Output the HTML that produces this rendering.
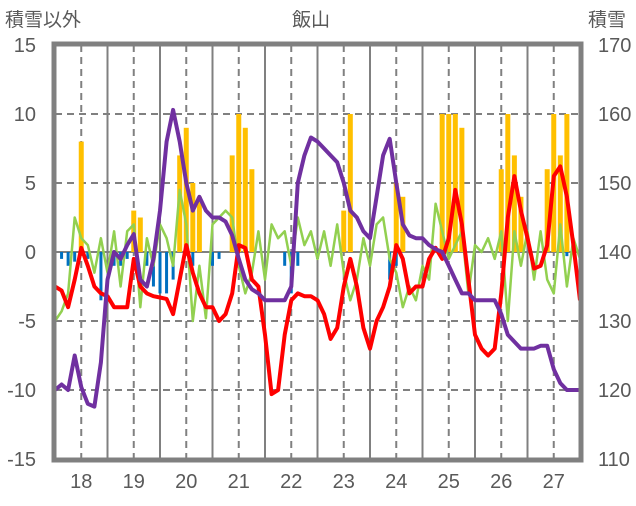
<!DOCTYPE html>
<html><head><meta charset="utf-8"><style>
body{margin:0;background:#fff}
svg text{font-family:"Liberation Sans","Noto Sans CJK JP",sans-serif;fill:#595959}
</style></head><body>
<svg id="c" width="636" height="501"></svg>
<script>
const xLabels=["18","19","20","21","22","23","24","25","26","27"];
const leftTicks=[15,10,5,0,-5,-10,-15];
const rightTicks=[170,160,150,140,130,120,110];
// 3-hourly samples from day 17.5 to 27.5
const snowDepth=[-10,-9.6,-10,-7.5,-9.8,-11,-11.2,-8,-2,0,-0.5,0.5,1.3,-2,-2.5,-0.5,3,8,10.3,8,5,3,4,3,2.5,2.5,2.2,1.2,-0.5,-2,-2.7,-3,-3.5,-3.5,-3.5,-3.5,-2.5,5,7,8.3,8,7.5,7,6.5,5,3,2.5,1.5,1,4,7,8.2,5,2,1.2,1,1,0.5,0.2,0,-1,-2,-3,-3,-3.5,-3.5,-3.5,-3.5,-4.5,-6,-6.5,-7,-7,-7,-6.8,-6.8,-8.5,-9.5,-10,-10,-10].map(v=>140+2*v);
const redSeries=[-2.5,-2.8,-4,-2,0.3,-1,-2.5,-3,-3.2,-4,-4,-4,-0.5,-2.5,-3,-3.2,-3.3,-3.4,-4.5,-2,0.5,-1.5,-3,-4,-4,-5,-4.5,-3,0.5,0.3,-2,-2.5,-6,-10.3,-10,-6,-3.5,-3,-3.2,-3.2,-3.5,-4.5,-6.3,-5.5,-2.5,-0.5,-2.5,-5.5,-7,-5,-4,-2.5,0.5,-0.5,-3,-2.5,-2.5,-0.5,0.3,-0.5,1,4.5,2,-2,-6,-7,-7.5,-7,-3,2.5,5.5,3,1,-1.2,-1,0.5,5.5,6.2,4,0.5,-3.5];
const greenSeries=[-5,-4.3,-3,2.5,1,0.5,-1.5,1,-1.5,1.5,-2.5,1.5,2,-4,1,-1,2,1,-1,4.5,2,-5,-1,-4.8,2,2.5,3,2.5,-1,-3,-1.5,1.5,-2,2,1,1.5,-1,2.5,0.5,1.5,-0.5,1.5,-1,2,-1.5,-3.5,-2,1,-1,2,2.5,-0.5,-1.5,-4,-2.5,-3.5,-1,-2,3.5,1.5,-0.5,0.5,1.5,-3,0.5,0,1,-0.5,1.5,-5,1.5,-1,1.5,-2,1.5,-2,-3,2,-2.5,1,-0.5];
const yellowBars=[0,0,0,0,8,0,0,0,0,0,0,0,3,2.5,0,0,0,0,0,7,9,5,4,0,0,0,0,7,10,9,6,0,0,0,0,0,0,0,0,0,0,0,0,0,3,10,0,0,0,0,0,0,5,4,0,0,0,0,0,10,10,10,9,0,0,0,0,0,6,10,7,4,0,0,0,6,10,7,10,0,0];
const blueBars=[0,-0.5,-1,-0.7,0,-0.5,0,-3.5,0,-1,-1,-0.5,0,0,-1,-2.5,-3,-3,-2,0,0,-1,0,0,-1,-0.5,0,0,0,0,0,0,0,0,0,-1,-3,-1,0,0,-0.5,0,0,0,0,0,0,0,0,0,0,-2,-1,0,0,0,0,0,0,0,0,0,0,0,0,0,0,0,0,0,0,0,0,0,0,0,0,0,-0.3,0,0];

const NS="http://www.w3.org/2000/svg",svg=document.getElementById('c');
const L=55,R=580,T=45,B=459;
const X=t=>L+(t-17.5)*52.5;
const Y=v=>T+(15-v)*(B-T)/30;
const Y2=v=>T+(170-v)*(B-T)/60;
const tOf=i=>17.5+i*0.125;
function mk(tag,a,p){const e=document.createElementNS(NS,tag);for(const k in a)e.setAttribute(k,a[k]);(p||svg).appendChild(e);return e;}

// grid
leftTicks.forEach(v=>{if(v===15||v===-15)return;
 const g=mk('line',{x1:L,x2:R,y1:Y(v),y2:Y(v),stroke:'#808080','stroke-width':2,'stroke-dasharray':v===0?'':'7,5'});
 
 });
xLabels.forEach((d,i)=>{const day=18+i;
 const g=mk('line',{x1:X(day),x2:X(day),y1:T,y2:B,stroke:'#808080','stroke-width':2,'stroke-dasharray':'7,5'});
 
 
 if(day<27||true){const s=mk('line',{x1:X(day+0.5),x2:X(day+0.5),y1:T,y2:B,stroke:'#808080','stroke-width':2});
 
 }
 const t=mk('text',{x:X(day),y:488,'text-anchor':'middle','font-size':20});t.textContent=d;
 
 });
// bars
yellowBars.forEach((v,i)=>{if(!v)return;const r=mk('rect',{x:X(tOf(i))-2.5,width:5,y:Y(v),height:Y(0)-Y(v),fill:'#ffc000'});
 
 });
blueBars.forEach((v,i)=>{if(!v)return;const r=mk('rect',{x:X(tOf(i))-1.5,width:3,y:Y(0),height:Y(v)-Y(0),fill:'#0070c0'});
 
 });
function line(arr,f,col,w,name){const p=mk('polyline',{points:arr.map((v,i)=>X(tOf(i)).toFixed(1)+','+f(v).toFixed(1)).join(' '),fill:'none',stroke:col,'stroke-width':w,'stroke-linejoin':'round'});
 
 }
line(greenSeries,Y,'#92d050',2.5,'green-series-line');
line(redSeries,Y,'#ff0000',4,'red-series-line');
line(snowDepth,Y2,'#7030a0',4,'snow-depth-line');
// border
const bd=mk('rect',{x:L-1,y:T-1,width:R-L+2,height:B-T+2,fill:'none',stroke:'#808080','stroke-width':5});


leftTicks.forEach(v=>{const t=mk('text',{x:36,y:Y(v)+7,'text-anchor':'end','font-size':20});t.textContent=v;
 
 });
rightTicks.forEach(v=>{const t=mk('text',{x:598,y:Y2(v)+7,'font-size':20});t.textContent=v;
 
 });
[['積雪以外',5,26,'start','left-axis-title'],['飯山',311,26,'middle','chart-title'],['積雪',588,26,'start','right-axis-title']].forEach(a=>{
 const t=mk('text',{x:a[1],y:a[2],'text-anchor':a[3],'font-size':19});t.textContent=a[0];
 
 });
</script>
</body></html>
